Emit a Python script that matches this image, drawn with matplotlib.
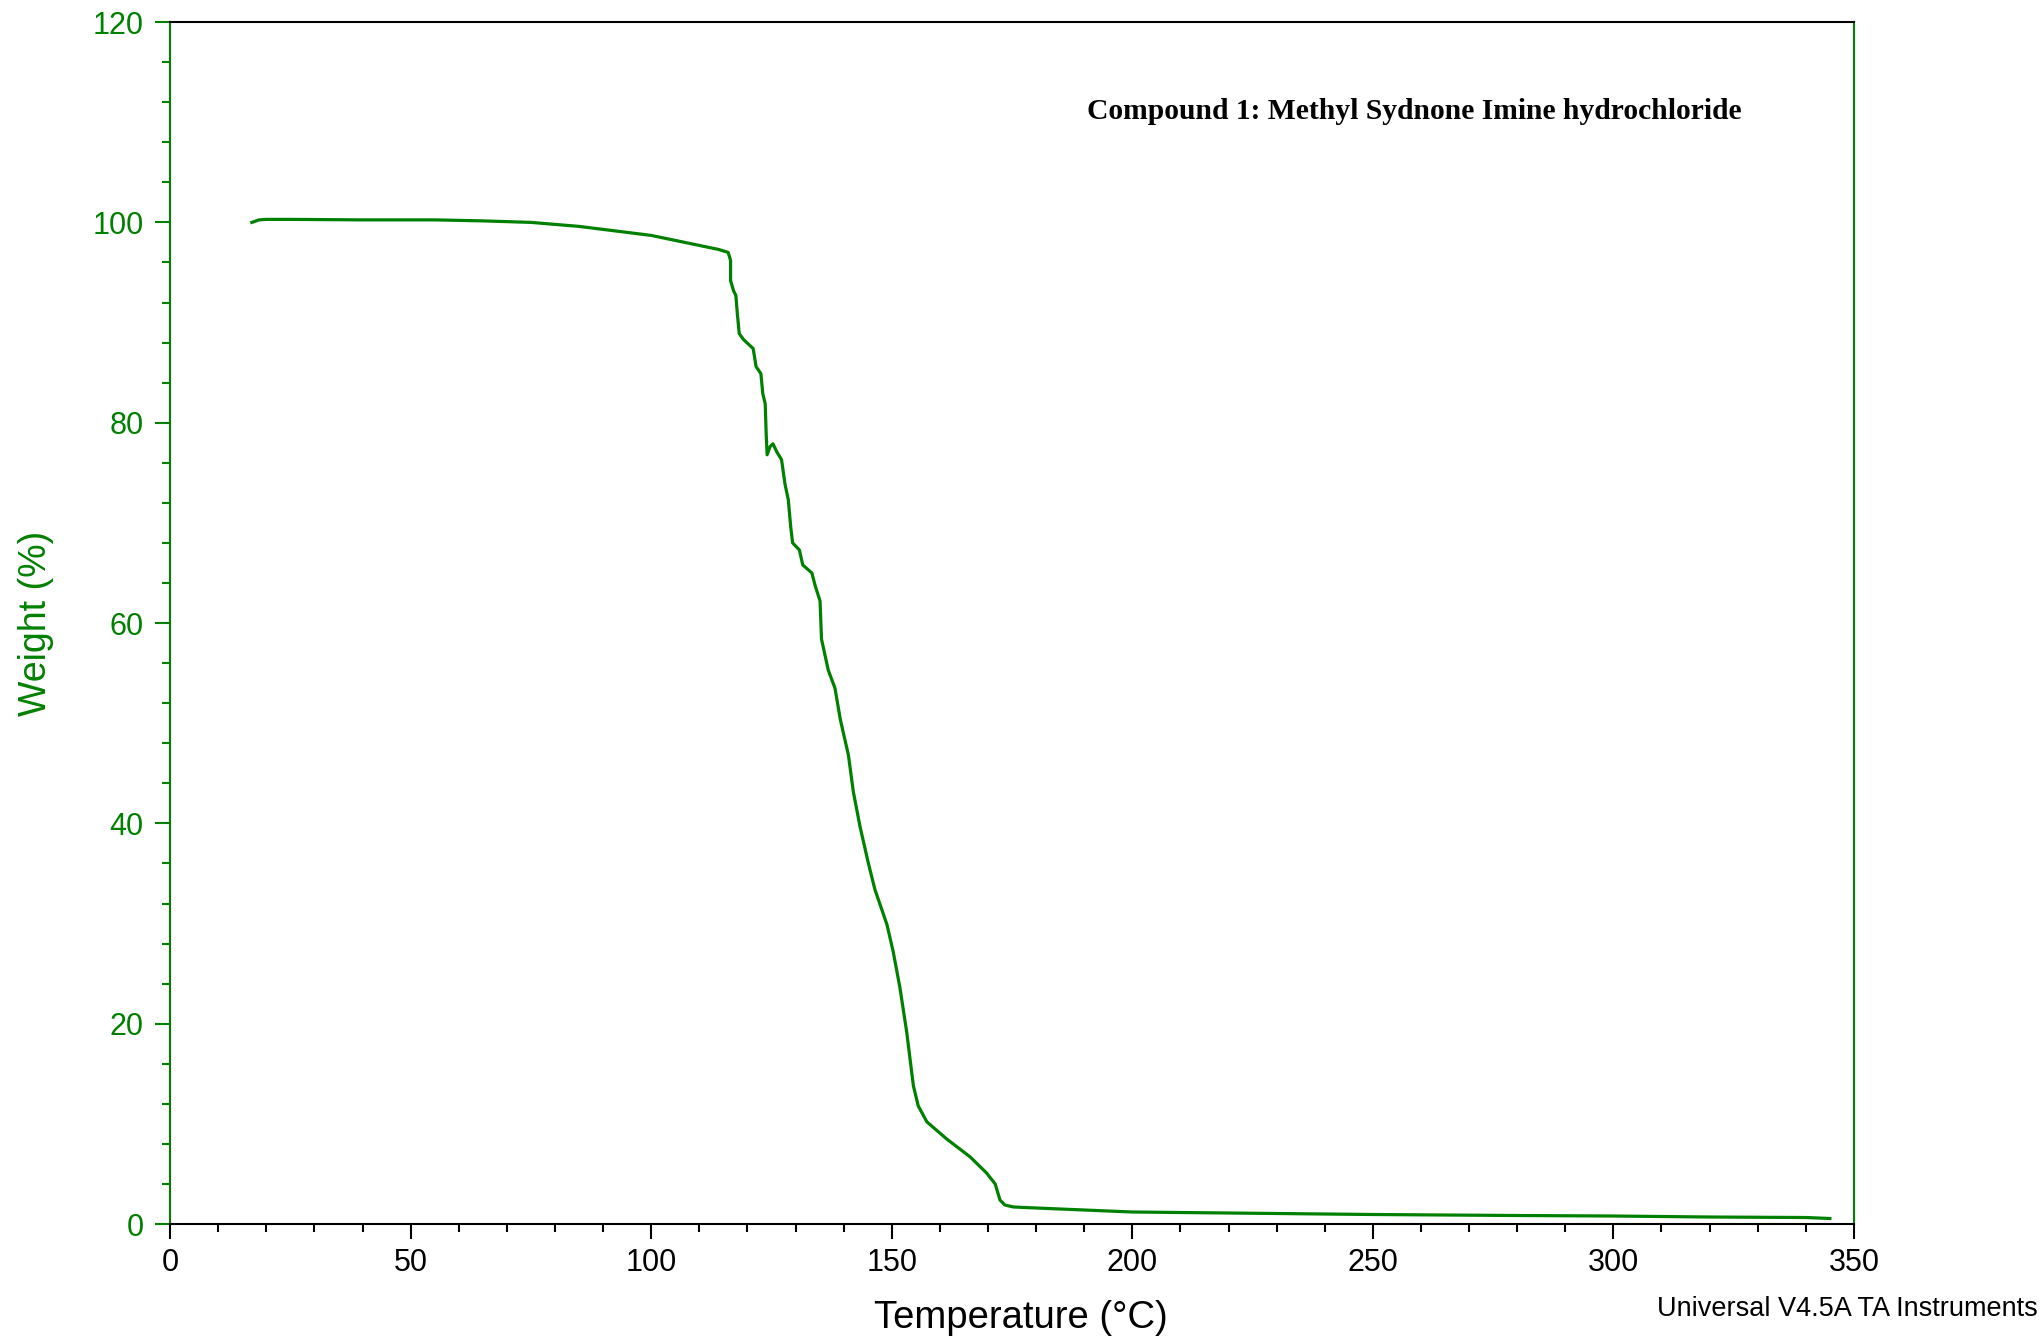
import matplotlib
matplotlib.use('Agg')
import matplotlib.pyplot as plt
import matplotlib.ticker as ticker

green = '#008000'

# TGA trace
temperature = [17.0, 18.5, 20, 25, 40, 55, 65, 75, 85, 90, 95, 100, 105, 110, 114,
               116.0, 116.5, 116.5, 117.1, 117.6, 117.9, 118.3, 119.2, 121.2, 121.8,
               122.8, 123.2, 123.7, 123.9, 124.1, 124.7, 125.3, 126.1, 127.1, 127.8,
               128.5, 129.0, 129.4, 130.8, 131.5, 133.4, 134.1, 135.1, 135.4, 136.8,
               138.2, 139.3, 141.0, 142.0, 143.4, 145.1, 146.5, 149.0, 150.3, 151.7,
               153.1, 154.5, 155.5, 157.3, 161.4, 166.3, 169.7, 171.5, 172.5, 173.5,
               175.3, 180, 190, 200, 220, 250, 280, 300, 320, 340, 345]
weight = [100.0, 100.25, 100.3, 100.3, 100.25, 100.25, 100.15, 100.0, 99.6, 99.3,
          99.0, 98.7, 98.2, 97.7, 97.3,
          97.0, 96.2, 94.2, 93.2, 92.7, 90.9, 88.9, 88.3, 87.4, 85.6,
          84.9, 82.9, 81.9, 78.9, 76.8, 77.6, 77.9, 77.1, 76.3, 73.9,
          72.3, 69.6, 68.0, 67.3, 65.8, 65.0, 63.7, 62.2, 58.4, 55.3,
          53.5, 50.4, 46.8, 43.2, 39.7, 36.1, 33.4, 29.9, 27.2, 23.6,
          19.2, 13.8, 11.8, 10.2, 8.5, 6.7, 5.1, 4.0, 2.4, 1.9,
          1.7, 1.6, 1.4, 1.2, 1.1, 0.95, 0.85, 0.8, 0.7, 0.65, 0.55]

title = 'Compound 1: Methyl Sydnone Imine hydrochloride'
x_ticks = [0, 50, 100, 150, 200, 250, 300, 350]
y_ticks = [0, 20, 40, 60, 80, 100, 120]

plt.rcParams['font.family'] = ['Liberation Sans', 'DejaVu Sans']

fig = plt.figure(figsize=(20.42, 13.37), dpi=100)
ax = fig.add_axes([0.0833, 0.0845, 0.8246, 0.899])

ax.plot(temperature, weight, color=green, lw=2.3)

ax.set_xlim(0, 350)
ax.set_ylim(0, 120)
ax.set_xticks(x_ticks)
ax.set_yticks(y_ticks)
ax.xaxis.set_minor_locator(ticker.MultipleLocator(10))
ax.yaxis.set_minor_locator(ticker.MultipleLocator(4))

ax.tick_params(axis='x', which='major', direction='out', length=11, width=1.5,
               labelsize=22, pad=6, colors='black')
ax.tick_params(axis='x', which='minor', direction='out', length=5.5, width=1.5,
               colors='black')
ax.tick_params(axis='y', which='major', direction='out', length=11, width=1.5,
               labelsize=22, pad=8, colors=green)
ax.tick_params(axis='y', which='minor', direction='out', length=5.5, width=1.5,
               colors=green)

for side in ['left', 'right']:
    ax.spines[side].set_color(green)
for side in ['top', 'bottom']:
    ax.spines[side].set_color('black')
for sp in ax.spines.values():
    sp.set_linewidth(1.5)

ax.set_xlabel('Temperature (°C)', fontsize=27.5)
ax.xaxis.set_label_coords(0.505, -0.063)
ax.set_ylabel('Weight (%)', fontsize=27, color=green, labelpad=28)

ax.text(0.739, 0.926, title, transform=ax.transAxes, ha='center', va='center',
        fontsize=21.3, fontweight='bold', family='Liberation Serif')
fig.text(0.998, 0.021, 'Universal V4.5A TA Instruments', ha='right', va='center',
         fontsize=19.5)

fig.savefig('out.png', dpi=100)
